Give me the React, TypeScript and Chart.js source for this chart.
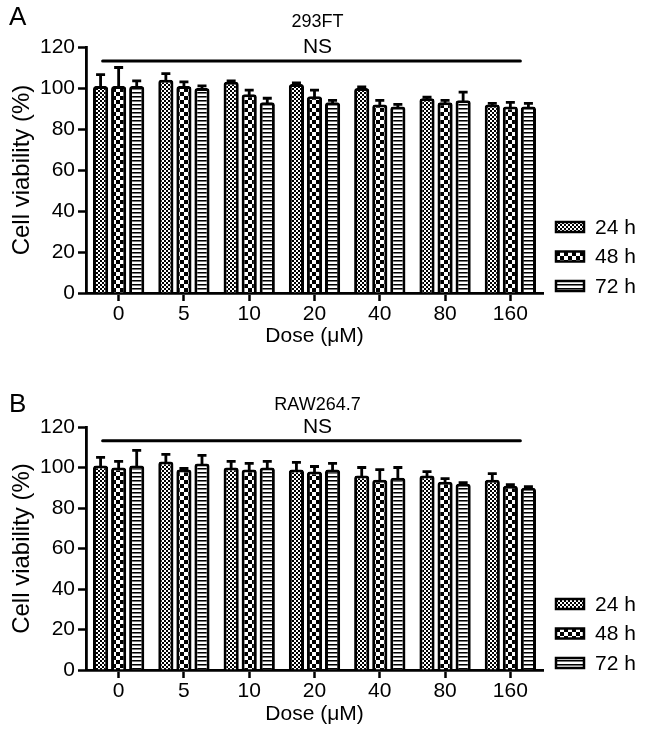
import React, { useEffect, useRef } from "react";
import { Chart, registerables } from "chart.js";
Chart.register(...registerables);

const doses = ["0", "5", "10", "20", "40", "80", "160"];
const seriesLabels = ["24 h", "48 h", "72 h"];

const a24 = [101, 104, 103, 102, 100, 95, 92];
const a48 = [101, 101, 97, 96, 92, 93, 91];
const a72 = [101, 100, 93, 93, 91, 94, 91];
const a24Err = [5.5, 3, 0.5, 0.5, 0.5, 0.5, 0.5];
const a48Err = [9, 2, 2, 3, 2, 1, 2];
const a72Err = [2.5, 1, 2, 1, 1, 4, 1.5];

const b24 = [101, 103, 100, 99, 96, 96, 94];
const b48 = [100, 99, 99, 98, 94, 93, 91];
const b72 = [101, 102, 100, 99, 95, 92, 90];
const b24Err = [4, 3.5, 3, 3.5, 4, 2, 3];
const b48Err = [3, 0.5, 3, 2.5, 5, 1.5, 0.5];
const b72Err = [7.5, 4, 3, 3, 5, 0.5, 0.5];

const FONT = "'Liberation Sans', Arial, Helvetica, sans-serif";

function makePattern(kind: number): CanvasPattern | string {
  const c = document.createElement("canvas");
  const ctx = c.getContext("2d");
  if (!ctx) return "#888";
  if (kind === 0) {
    c.width = 4; c.height = 4;
    ctx.fillStyle = "#fff"; ctx.fillRect(0, 0, 4, 4);
    ctx.fillStyle = "#000";
    ctx.fillRect(0, 0, 2, 2); ctx.fillRect(2, 2, 2, 2);
  } else if (kind === 1) {
    c.width = 8; c.height = 8;
    ctx.fillStyle = "#fff"; ctx.fillRect(0, 0, 8, 8);
    ctx.fillStyle = "#000";
    ctx.fillRect(0, 0, 4, 4); ctx.fillRect(4, 4, 4, 4);
  } else {
    c.width = 4; c.height = 4;
    ctx.fillStyle = "#fff"; ctx.fillRect(0, 0, 4, 4);
    ctx.fillStyle = "#000"; ctx.fillRect(0, 0, 4, 1);
    ctx.fillStyle = "#777"; ctx.fillRect(0, 1, 4, 1);
  }
  return ctx.createPattern(c, "repeat") as CanvasPattern;
}

type PanelDef = {
  letter: string;
  title: string;
  values: number[][];
  errs: number[][];
  height: number;
  top: number;
  bottomPad: number;
  xTitlePad: number;
  letterY: number;
  titleY: number;
};

const panelA: PanelDef = {
  letter: "A", title: "293FT",
  values: [a24, a48, a72], errs: [a24Err, a48Err, a72Err],
  height: 360, top: 47, bottomPad: 7, xTitlePad: 4, letterY: 18, titleY: 22,
};
const panelB: PanelDef = {
  letter: "B", title: "RAW264.7",
  values: [b24, b48, b72], errs: [b24Err, b48Err, b72Err],
  height: 379, top: 67, bottomPad: 9, xTitlePad: 3, letterY: 45, titleY: 45,
};

function makeConfig(p: PanelDef): any {
  const patterns = [0, 1, 2].map(makePattern);

  const errorPlugin = {
    id: "errorBars" + p.letter,
    afterDatasetsDraw(chart: any) {
      const ctx = chart.ctx;
      const y = chart.scales.y;
      ctx.save();
      ctx.strokeStyle = "#000";
      ctx.lineWidth = 2.8;
      for (let d = 0; d < 3; d++) {
        const meta = chart.getDatasetMeta(d);
        meta.data.forEach((bar: any, i: number) => {
          const top = y.getPixelForValue(p.values[d][i] + p.errs[d][i]);
          const base = bar.y + 1;
          if (base - top < 1) return;
          ctx.beginPath();
          ctx.moveTo(bar.x, base);
          ctx.lineTo(bar.x, top);
          ctx.moveTo(bar.x - 4.5, top);
          ctx.lineTo(bar.x + 4.5, top);
          ctx.stroke();
        });
      }
      ctx.restore();
    },
  };

  const annotPlugin = {
    id: "annot" + p.letter,
    afterDraw(chart: any) {
      const ctx = chart.ctx;
      const ca = chart.chartArea;
      const x = chart.scales.x;
      const y = chart.scales.y;
      ctx.save();
      ctx.fillStyle = "#000";
      ctx.textBaseline = "middle";
      // panel letter
      ctx.font = `26px ${FONT}`;
      ctx.textAlign = "left";
      ctx.fillText(p.letter, 9, p.letterY);
      // title
      ctx.font = `18px ${FONT}`;
      ctx.textAlign = "center";
      const cx = (ca.left + ca.right) / 2 + 3;
      ctx.fillText(p.title, cx, p.titleY);
      // NS line
      const lx0 = x.getPixelForValue(0) - 16;
      const lx1 = x.getPixelForValue(6) + 10;
      const ly = y.getPixelForValue(113.2);
      ctx.strokeStyle = "#000";
      ctx.lineWidth = 3;
      ctx.lineCap = "round";
      ctx.beginPath();
      ctx.moveTo(lx0, ly);
      ctx.lineTo(lx1, ly);
      ctx.stroke();
      ctx.font = `21px ${FONT}`;
      ctx.fillText("NS", cx, y.getPixelForValue(120));
      // legend
      ctx.textAlign = "left";
      ctx.font = `21px ${FONT}`;
      for (let i = 0; i < 3; i++) {
        const cy = ca.bottom - 7 - (2 - i) * 29.5;
        ctx.fillStyle = patterns[i];
        ctx.fillRect(556, cy - 5, 28, 10);
        ctx.lineWidth = 2.5;
        ctx.lineCap = "butt";
        ctx.strokeRect(556, cy - 5, 28, 10);
        ctx.fillStyle = "#000";
        ctx.fillText(seriesLabels[i], 595, cy + 1);
      }
      ctx.restore();
    },
  };

  const tickFont = { family: FONT, size: 21, lineHeight: 1.2 };

  return {
    type: "bar",
    data: {
      labels: doses,
      datasets: [0, 1, 2].map((i) => ({
        label: seriesLabels[i],
        data: p.values[i],
        backgroundColor: patterns[i],
        borderColor: "#000",
        borderWidth: 3,
        borderSkipped: "bottom",
        borderRadius: { topLeft: 3, topRight: 3, bottomLeft: 0, bottomRight: 0 },
        categoryPercentage: 0.83,
        barPercentage: 0.84,
      })),
    },
    options: {
      animation: false,
      responsive: false,
      maintainAspectRatio: false,
      layout: { padding: { top: p.top, right: 646 - 543, bottom: p.bottomPad, left: 0 } },
      plugins: {
        legend: { display: false },
        tooltip: { enabled: false },
        title: { display: false },
      },
      scales: {
        x: {
          offset: true,
          grid: {
            display: true, drawOnChartArea: false, offset: false,
            tickLength: 8, tickWidth: 2.5, tickColor: "#000",
          },
          border: { display: true, color: "#000", width: 2.8 },
          ticks: { color: "#000", font: tickFont, padding: 1, maxRotation: 0, autoSkip: false },
          title: {
            display: true, text: "Dose (μM)", color: "#000",
            font: { family: FONT, size: 21, lineHeight: 1.2 },
            padding: { top: 0, bottom: p.xTitlePad },
          },
          afterFit: (s: any) => { s.height = 60; },
        },
        y: {
          min: 0, max: 120,
          grid: {
            display: true, drawOnChartArea: false,
            tickLength: 8, tickWidth: 2.5, tickColor: "#000",
          },
          border: { display: true, color: "#000", width: 2.8 },
          ticks: { stepSize: 20, color: "#000", font: tickFont, padding: 3 },
          title: {
            display: true, text: "Cell viability (%)", color: "#000",
            font: { family: FONT, size: 24, lineHeight: 1.2 },
            padding: { top: 8, bottom: 0 },
          },
          afterFit: (s: any) => { s.width = 86; },
        },
      },
    },
    plugins: [errorPlugin, annotPlugin],
  };
}

function Panel({ def }: { def: PanelDef }) {
  const ref = useRef<HTMLCanvasElement | null>(null);
  useEffect(() => {
    if (!ref.current) return;
    const ch = new Chart(ref.current, makeConfig(def));
    return () => ch.destroy();
  }, [def]);
  return (
    <canvas
      ref={ref}
      width={646}
      height={def.height}
      style={{ display: "block", width: 646, height: def.height }}
    />
  );
}

export default function App() {
  return (
    <div style={{ position: "absolute", left: 0, top: 0, width: 646, height: 739, background: "#fff" }}>
      <Panel def={panelA} />
      <Panel def={panelB} />
    </div>
  );
}
